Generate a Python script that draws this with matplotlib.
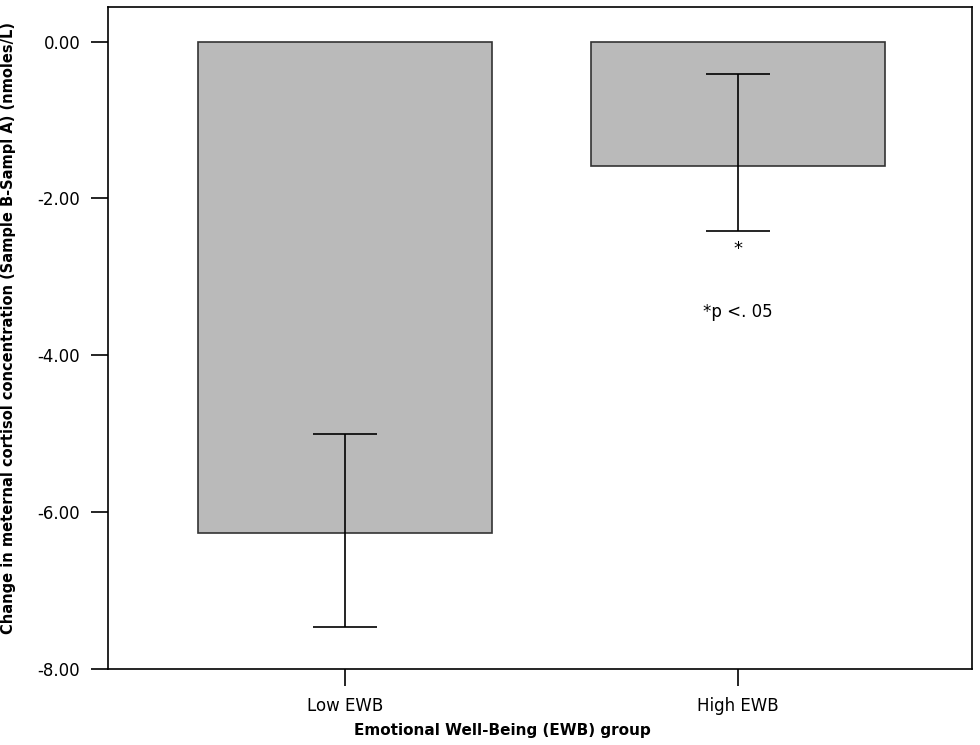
import numpy as np
import matplotlib.pyplot as plt

groups = ['Low EWB', 'High EWB']
means = np.array([-6.26, -1.59])
err_low = np.array([1.21, 0.82])
err_high = np.array([1.25, 1.17])
yticks = [0, -2, -4, -6, -8]

plt.rcParams['font.family'] = ['DejaVu Sans']

fig = plt.figure(figsize=(9.8, 7.45), dpi=100)
ax = fig.add_axes([0.1102, 0.102, 0.8816, 0.8886])

x = np.arange(len(groups))
ax.bar(x, means, width=0.746, color='#bababa', edgecolor='#333333', linewidth=1.2)
ax.errorbar(x, means, yerr=[err_low, err_high], fmt='none', ecolor='black',
            elinewidth=1.2, capsize=23, capthick=1.2)

ax.text(1, -2.64, '*', ha='center', va='center', fontsize=13)
ax.text(1, -3.45, '*p <. 05', ha='center', va='center', fontsize=12)

ax.set_xlim(-0.603, 1.595)
ax.set_ylim(-8, 0.44)
ax.set_xticks(x)
ax.set_xticklabels(groups)
ax.set_yticks(yticks)
ax.set_yticklabels(['%.2f' % v for v in yticks])
ax.tick_params(axis='both', labelsize=12, length=12, width=1.2, direction='out', pad=8)
for s in ax.spines.values():
    s.set_linewidth(1.2)

ax.set_ylabel('Change in meternal cortisol concentration (Sample B-Sampl A) (nmoles/L)',
              fontsize=10.5, fontweight='bold')
ax.yaxis.set_label_coords(-0.107, 0.515)
ax.set_xlabel('Emotional Well-Being (EWB) group', fontsize=11, fontweight='bold')
ax.xaxis.set_label_coords((502 - 108) / 864, -0.082)

fig.savefig('out.png', dpi=100)
